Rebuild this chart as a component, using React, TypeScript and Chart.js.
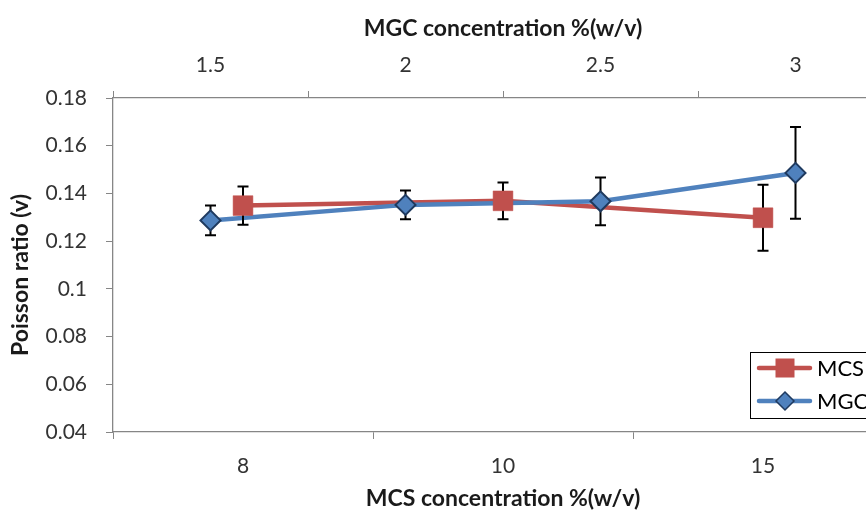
import React, { useEffect, useRef } from 'react';
import { Chart, registerables } from 'chart.js';

Chart.register(...registerables);

// ---- data ----
const mcsLabels = ['8', '10', '15'];
const mgcLabels = ['1.5', '2', '2.5', '3'];
const mcsValues = [0.1349, 0.1369, 0.1298];
const mcsErrors = [0.008, 0.0077, 0.0138];
const mgcValues = [0.1287, 0.1352, 0.1367, 0.1486];
const mgcErrors = [0.0062, 0.006, 0.01, 0.0192];
const yMin = 0.04;
const yMax = 0.18;
const yStep = 0.02;

const seriesNames = ['MCS', 'MGC'];
const xTitle = 'MCS concentration %(w/v)';
const x2Title = 'MGC concentration %(w/v)';
const yTitle = 'Poisson ratio (v)';

// ---- style ----
const RED = '#C0504D';
const BLUE = '#4F81BD';
const BLUE_EDGE = '#1F3A5F';
const AXIS = '#868686';
const FONT = 'Lato';
const TICK_COLOR = '#333333';
const TITLE_COLOR = '#1a1a1a';
const TITLE_SIZE = 23;
const W = 920;
const H = 514;

const errorBarPlugin = {
  id: 'errorBars',
  afterDatasetDraw(chart: any, args: any) {
    // draw error bars after the last line dataset, below the markers
    if (args.index !== 1) return;
    const ctx = chart.ctx;
    const ys = chart.scales.y;
    ctx.save();
    ctx.strokeStyle = '#000';
    ctx.lineWidth = 2;
    chart.data.datasets.forEach((ds: any, i: number) => {
      if (!ds.errors) return;
      const meta = chart.getDatasetMeta(i);
      meta.data.forEach((pt: any, j: number) => {
        const v = ds.data[j];
        const e = ds.errors[j];
        const x = pt.x;
        const yt = ys.getPixelForValue(v + e);
        const yb = ys.getPixelForValue(v - e);
        ctx.beginPath();
        ctx.moveTo(x, yt);
        ctx.lineTo(x, yb);
        ctx.moveTo(x - 5.5, yt);
        ctx.lineTo(x + 5.5, yt);
        ctx.moveTo(x - 5.5, yb);
        ctx.lineTo(x + 5.5, yb);
        ctx.stroke();
      });
    });
    ctx.restore();
  },
};

const decorPlugin = {
  id: 'decor',
  afterDraw(chart: any) {
    const ctx = chart.ctx;
    const area = chart.chartArea;
    // y axis title
    ctx.save();
    ctx.translate(21, 275);
    ctx.rotate(-Math.PI / 2);
    ctx.font = `bold ${TITLE_SIZE}px ${FONT}`;
    ctx.fillStyle = TITLE_COLOR;
    ctx.textAlign = 'center';
    ctx.textBaseline = 'middle';
    ctx.fillText(yTitle, 0, 0);
    ctx.restore();

    // legend box
    const x0 = area.right - 143;
    const y0 = area.bottom - 80;
    const w = 170;
    const h = 66;
    ctx.save();
    ctx.fillStyle = '#fff';
    ctx.fillRect(x0, y0, w, h);
    ctx.strokeStyle = '#000';
    ctx.lineWidth = 1;
    ctx.strokeRect(x0 + 0.5, y0 + 0.5, w, h);
    const rows = [
      { name: seriesNames[0], color: RED, kind: 'rect', yy: y0 + 16 },
      { name: seriesNames[1], color: BLUE, kind: 'diamond', yy: y0 + 49 },
    ];
    rows.forEach((r) => {
      ctx.strokeStyle = r.color;
      ctx.lineWidth = 4.5;
      ctx.lineCap = 'round';
      ctx.beginPath();
      ctx.moveTo(x0 + 9, r.yy);
      ctx.lineTo(x0 + 60, r.yy);
      ctx.stroke();
      const cx = x0 + 35;
      if (r.kind === 'rect') {
        ctx.fillStyle = r.color;
        ctx.fillRect(cx - 9.5, r.yy - 9.5, 19, 19);
      } else {
        ctx.beginPath();
        ctx.moveTo(cx, r.yy - 9);
        ctx.lineTo(cx + 9, r.yy);
        ctx.lineTo(cx, r.yy + 9);
        ctx.lineTo(cx - 9, r.yy);
        ctx.closePath();
        ctx.fillStyle = r.color;
        ctx.fill();
        ctx.strokeStyle = BLUE_EDGE;
        ctx.lineWidth = 1.5;
        ctx.stroke();
      }
      ctx.fillStyle = '#000';
      ctx.font = `22px ${FONT}`;
      ctx.textAlign = 'left';
      ctx.textBaseline = 'middle';
      ctx.fillText(r.name, x0 + 67, r.yy + 1);
    });
    ctx.restore();
  },
};

export default function App() {
  const ref = useRef<HTMLCanvasElement | null>(null);

  useEffect(() => {
    if (!ref.current) return;
    const tickFont = { family: FONT, size: 21 };
    const titleFont = { family: FONT, size: TITLE_SIZE, weight: 'bold' as const };
    const chart = new Chart(ref.current, {
      type: 'line',
      data: {
        datasets: [
          {
            label: seriesNames[0],
            data: mcsValues,
            xAxisID: 'x',
            yAxisID: 'y',
            borderColor: RED,
            borderWidth: 4.5,
            borderCapStyle: 'round',
            borderJoinStyle: 'round',
            pointRadius: 0,
            fill: false,
            tension: 0,
            order: 4,
          },
          {
            label: seriesNames[1],
            data: mgcValues,
            xAxisID: 'x2',
            yAxisID: 'y',
            borderColor: BLUE,
            borderWidth: 4.5,
            borderCapStyle: 'round',
            borderJoinStyle: 'round',
            pointRadius: 0,
            fill: false,
            tension: 0,
            order: 3,
          },
          {
            label: seriesNames[0] + ' markers',
            data: mcsValues,
            errors: mcsErrors,
            xAxisID: 'x',
            yAxisID: 'y',
            showLine: false,
            pointStyle: 'rect',
            pointRadius: 14,
            pointBackgroundColor: RED,
            pointBorderColor: RED,
            pointBorderWidth: 0.5,
            order: 2,
          } as any,
          {
            label: seriesNames[1] + ' markers',
            data: mgcValues,
            errors: mgcErrors,
            xAxisID: 'x2',
            yAxisID: 'y',
            showLine: false,
            pointStyle: 'rectRot',
            pointRadius: 10,
            pointBackgroundColor: BLUE,
            pointBorderColor: BLUE_EDGE,
            pointBorderWidth: 2,
            order: 1,
          } as any,
        ],
      },
      options: {
        responsive: false,
        animation: false,
        devicePixelRatio: 1,
        layout: { padding: { left: 0, top: 0, right: W - 893, bottom: 0 } },
        plugins: { legend: { display: false }, tooltip: { enabled: false } },
        scales: {
          x: {
            type: 'category',
            position: 'bottom',
            labels: mcsLabels,
            offset: true,
            grid: { offset: true, drawOnChartArea: false, drawTicks: true, tickLength: 7, color: AXIS },
            border: { display: true, color: AXIS, width: 1.3 },
            ticks: { font: tickFont, color: TICK_COLOR, padding: 15, maxRotation: 0, autoSkip: false },
            title: { display: true, text: xTitle, font: titleFont, color: TITLE_COLOR, padding: { top: 0, bottom: 2 } },
            afterFit(s: any) { s.height = 82; },
          },
          x2: {
            type: 'category',
            position: 'top',
            labels: mgcLabels,
            offset: true,
            grid: { offset: true, drawOnChartArea: false, drawTicks: true, tickLength: 7, color: AXIS },
            border: { display: true, color: AXIS, width: 1.3 },
            ticks: { font: tickFont, color: TICK_COLOR, padding: 13, maxRotation: 0, autoSkip: false },
            title: { display: true, text: x2Title, font: titleFont, color: TITLE_COLOR, padding: { top: 15, bottom: 0 } },
            afterFit(s: any) { s.height = 98; },
          },
          y: {
            type: 'linear',
            position: 'left',
            min: yMin,
            max: yMax,
            grid: { drawOnChartArea: false, drawTicks: true, tickLength: 7, color: AXIS },
            border: { display: true, color: AXIS, width: 1.3 },
            ticks: {
              stepSize: yStep,
              font: tickFont,
              color: TICK_COLOR,
              padding: 19,
              callback: (v: any) => String(+Number(v).toFixed(2)),
            },
            afterFit(s: any) { s.width = 113; },
          },
        },
      },
      plugins: [errorBarPlugin, decorPlugin],
    } as any);
    return () => chart.destroy();
  }, []);

  return (
    <div
      style={{
        position: 'fixed',
        left: 0,
        top: 0,
        width: 866,
        height: 514,
        overflow: 'hidden',
        background: '#fff',
      }}
    >
      <canvas ref={ref} width={W} height={H} style={{ display: 'block', width: W, height: H }} />
    </div>
  );
}
